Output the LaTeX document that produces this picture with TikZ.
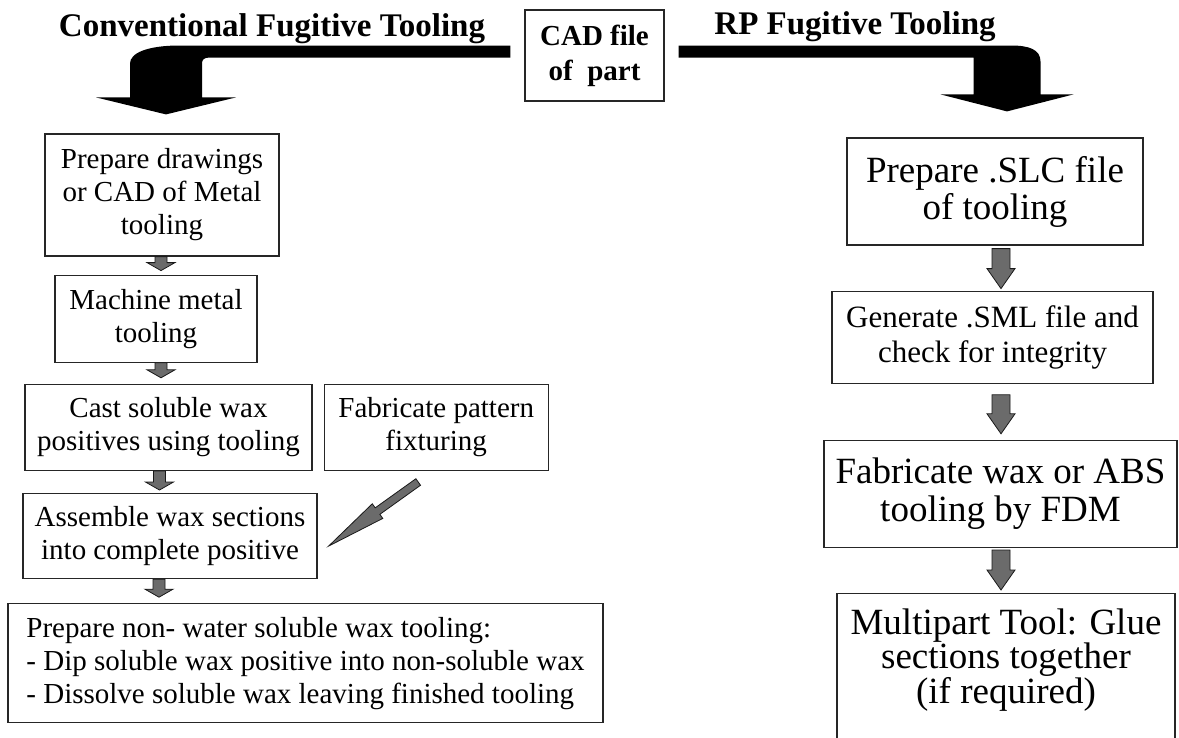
\documentclass[tikz,border=0pt]{standalone}
\usepackage{fontspec}
\setmainfont{Liberation Serif}
\usetikzlibrary{positioning,calc}

\tikzset{
  stepbox/.style={draw=black!85, line width=1.2pt, inner sep=2pt, align=center},
  leftstep/.style={stepbox, font=\fontsize{29}{33}\selectfont},
  rightstep/.style={stepbox, font=\fontsize{37}{37}\selectfont},
  heading/.style={font=\bfseries\fontsize{33}{36}\selectfont, inner sep=0pt},
  flowarrow/.style={fill=black!58, draw=black!90, line width=0.8pt, line join=miter},
  bigarrow/.style={fill=black},
}

\newcommand{\blockarrow}[5]{%
  \filldraw[flowarrow] let \p1=(#1), \p2=(#2) in
    (\x1-#3,\y1) -- (\x1+#3,\y1) -- (\x1+#3,\y2+#5) -- (\x1+#4,\y2+#5)
    -- (\x1,\y2) -- (\x1-#4,\y2+#5) -- (\x1-#3,\y2+#5) -- cycle;}

\begin{document}
\begin{tikzpicture}[x=1pt, y=-1pt]
    \path[use as bounding box, fill=white] (0,0) rectangle (1179,737);
    \clip (0,0) rectangle (1179,737);

    \node[stepbox, font=\bfseries\fontsize{29}{35}\selectfont, minimum width=139pt, minimum height=91pt] (cad) at (594.5,55.5) {CAD file\\of\ \ part};
    \node[heading, anchor=base] (convtitle) at (272,36) {Conventional Fugitive Tooling};
    \node[heading, anchor=base] (rptitle) at (855,34) {RP Fugitive Tooling};

    \node[leftstep, minimum width=234pt, minimum height=122pt] (drawings) at (162,195) {Prepare drawings\\or CAD of Metal\\tooling};
    \node[leftstep, minimum width=202pt, minimum height=87pt, below=18pt of drawings, xshift=-6pt] (machine) {Machine metal\\tooling};
    \node[leftstep, minimum width=287pt, minimum height=86pt, below=21pt of machine, xshift=12.5pt] (cast) {Cast soluble wax\\positives using tooling};
    \node[leftstep, minimum width=224pt, minimum height=86pt, right=11pt of cast] (fixture) {Fabricate pattern\\fixturing};
    \node[leftstep, minimum width=294pt, minimum height=85pt, below=22pt of cast, xshift=1.5pt] (assemble) {Assemble wax sections\\into complete positive};
    \node[leftstep, align=left, minimum width=595pt, minimum height=119pt, below=24pt of assemble, xshift=135.5pt] (dip) {Prepare non- water soluble wax tooling:\\- Dip soluble wax positive into non-soluble wax\\- Dissolve soluble wax leaving finished tooling};

    \node[rightstep, minimum width=296pt, minimum height=107pt] (slc) at (995,191.5) {Prepare .SLC file\\of tooling};
    \node[stepbox, font=\fontsize{31}{35}\selectfont, minimum width=321pt, minimum height=92pt, below=45pt of slc, xshift=-2.5pt] (sml) {Generate .SML file and\\check for integrity};
    \node[rightstep, font=\fontsize{37}{38}\selectfont, minimum width=353pt, minimum height=107pt, below=56pt of sml, xshift=8pt] (fdm) {Fabricate wax or ABS\\tooling by FDM};
    \node[rightstep, font=\fontsize{37}{33}\selectfont, minimum width=338pt, inner ysep=15pt, text depth=80pt, below=45pt of fdm, xshift=5.5pt] (glue) {Multipart Tool: Glue\\sections together\\(if required)};

    \fill[bigarrow] let \p1=([xshift=-14pt,yshift=4pt]cad.west), \p2=([xshift=4pt,yshift=19pt]drawings.north) in
        (\x1,\y1+6pt) -- (\x2+14pt,\y1+6pt)
        .. controls (\x2-20pt,\y1+6pt) and (\x2-36pt,\y1-2pt) .. (\x2-36pt,\y1-12pt)
        -- (\x2-36pt,\y2+17pt) -- (\x2-70pt,\y2+17pt) -- (\x2,\y2) -- (\x2+70pt,\y2+17pt)
        -- (\x2+36pt,\y2+17pt) -- (\x2+36pt,\y1-12pt)
        .. controls (\x2+36pt,\y1-8pt) and (\x2+38pt,\y1-6pt) .. (\x2+44pt,\y1-6pt)
        -- (\x1,\y1-6pt) -- cycle;
    \fill[bigarrow] let \p1=([xshift=14pt,yshift=4pt]cad.east), \p2=([xshift=12pt,yshift=26pt]slc.north) in
        (\x1,\y1+6pt) -- (\x2+4pt,\y1+6pt)
        .. controls (\x2+22pt,\y1+6pt) and (\x2+33.5pt,\y1+2pt) .. (\x2+33.5pt,\y1-10pt)
        -- (\x2+33.5pt,\y2+17pt) -- (\x2+66.5pt,\y2+17pt) -- (\x2,\y2) -- (\x2-66.5pt,\y2+17pt)
        -- (\x2-33.5pt,\y2+17pt) -- (\x2-33.5pt,\y1-6pt) -- (\x1,\y1-6pt) -- cycle;

    \blockarrow{[xshift=-1pt]drawings.south}{[yshift=4pt]machine.north}{6pt}{14pt}{8pt}
    \blockarrow{[xshift=5pt]machine.south}{[yshift=6pt]cast.north}{6pt}{14pt}{8pt}
    \blockarrow{[xshift=-9pt]cast.south}{[yshift=3pt]assemble.north}{6pt}{14pt}{8pt}
    \blockarrow{[xshift=-11pt]assemble.south}{[yshift=6pt]dip.north}{6pt}{14pt}{8pt}

    \blockarrow{[xshift=6pt,yshift=-3pt]slc.south}{[yshift=2pt]sml.north}{9pt}{14pt}{20pt}
    \blockarrow{[xshift=8.5pt,yshift=-11pt]sml.south}{[yshift=6pt]fdm.north}{9pt}{14pt}{20pt}
    \blockarrow{[xshift=0.5pt,yshift=-2pt]fdm.south}{[yshift=3pt]glue.north}{9pt}{14pt}{20pt}

    \coordinate (fixtail) at ([xshift=-18pt,yshift=-11pt]fixture.south);
    \coordinate (fixtip) at ([xshift=11pt,yshift=-10pt]assemble.east);
    \coordinate (fixneck) at ($(fixtail)!50pt!(fixtip)$);
    \filldraw[flowarrow] ($(fixtail)!4pt!90:(fixtip)$) -- ($(fixneck)!4pt!90:(fixtip)$) -- ($(fixneck)!9pt!90:(fixtip)$)
        -- (fixtip) -- ($(fixneck)!9pt!-90:(fixtip)$) -- ($(fixneck)!4pt!-90:(fixtip)$) -- ($(fixtail)!4pt!-90:(fixtip)$) -- cycle;
\end{tikzpicture}
\end{document}
